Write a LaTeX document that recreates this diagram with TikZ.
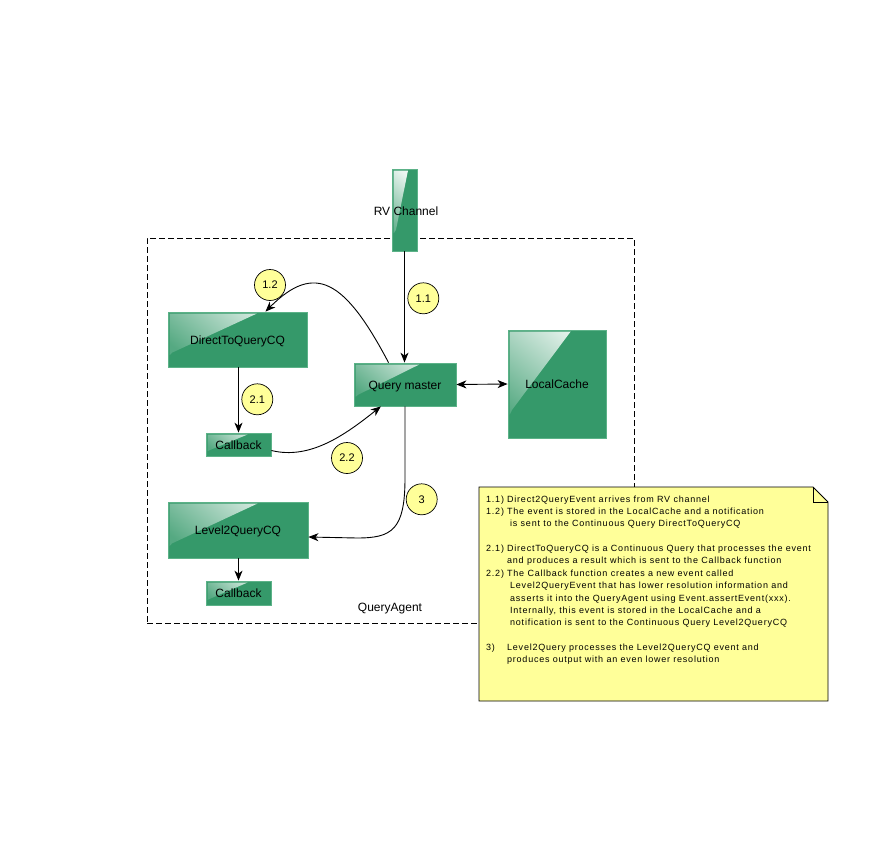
\documentclass[tikz,border=0pt]{standalone}
\usepackage{fontspec}
\setmainfont{Liberation Sans}
\newfontfamily\notefont[LetterSpace=8.5]{Liberation Sans}
\usetikzlibrary{arrows.meta,calc}

\definecolor{boxgreen}{RGB}{53,153,106}
\definecolor{boxedge}{RGB}{92,178,136}
\definecolor{notey}{RGB}{255,255,153}

\tikzset{
  glossbox/.style={
    fill=boxgreen, draw=boxedge, line width=0.8pt, inner sep=0pt,
    font=\fontsize{12}{14}\selectfont, text height=9pt, text depth=0pt,
    path picture={
      \shade[left color=white!90!boxgreen, right color=boxgreen!84!white, shading angle=-40]
        ($(path picture bounding box.north west)+(1.5,1.5)$)
        -- ($(path picture bounding box.north west)!0.64!(path picture bounding box.north east)+(0,1.5)$)
        -- ($(path picture bounding box.north west)!0.74!(path picture bounding box.south west)+(4,0)$)
        .. controls ($(path picture bounding box.north west)!0.79!(path picture bounding box.south west)+(1.5,0)$)
        .. ($(path picture bounding box.north west)!0.78!(path picture bounding box.south west)+(1.5,0)$)
        -- cycle;
    }
  },
  stepnum/.style={circle, fill=notey, draw=black, line width=0.7pt,
    minimum size=31pt, inner sep=0pt,
    font=\fontsize{11}{13}\selectfont, text height=7.9pt, text depth=0pt},
  conn/.style={draw=black, line width=0.9pt,
    -{Stealth[length=10pt,width=8pt,inset=3pt]}},
  plainlabel/.style={font=\fontsize{12}{14}\selectfont, inner sep=0pt},
  agentbox/.style={draw=black, dashed, dash pattern=on 6pt off 3pt,
    line width=0.8pt, inner sep=0pt},
  notebox/.style={fill=notey, draw=black, line width=0.8pt},
}

\begin{document}
\begin{tikzpicture}[x=1pt,y=-1pt]
\useasboundingbox (0,0) rectangle (896,848);

% container
\node[agentbox, minimum width=487pt, minimum height=385pt] (agent) at (390.5,430.5) {};
\node[plainlabel] (agentlabel) at (390,609) {QueryAgent};

% components
\node[glossbox, minimum width=25pt, minimum height=82pt] (rv) at (404.5,210) {};
\node[plainlabel] (rvlabel) at (406,211) {RV Channel};
\node[glossbox, minimum width=139pt, minimum height=55pt] (dq) at (237.5,339.5) {DirectToQueryCQ};
\node[glossbox, minimum width=102pt, minimum height=43pt] (qm) at (405,384.5) {Query master};
\node[glossbox, minimum width=98pt, minimum height=108pt] (lc) at (557,384) {LocalCache};
\node[glossbox, minimum width=65pt, minimum height=23pt] (cbone) at (238.5,444.5) {Callback};
\node[glossbox, minimum width=140pt, minimum height=56pt] (ltwo) at (238,530) {Level2QueryCQ};
\node[glossbox, minimum width=65pt, minimum height=24pt] (cbtwo) at (238.5,593) {Callback};

% connectors
\draw[conn] (rv.south) -- (rv.south |- qm.north);
\draw[conn] ($(qm.north west)!0.34!(qm.north east)$)
  .. controls (345,280) and (315,262) .. ($(dq.north west)!0.70!(dq.north east)$);
\draw[conn] (cbone.north |- dq.south) -- (cbone.north);
\draw[conn] ($(cbone.east)+(0,6)$)
  .. controls (310,460) and (345,435) .. ($(qm.south west)!0.265!(qm.south east)$);
\coordinate (bendthree) at (405,478);
\draw[conn] (qm.south) -- (bendthree) .. controls (405,530) and (392,538) .. (357,538)
  -- ($(ltwo.east)+(0,7)$);
\draw[conn] (cbtwo.north |- ltwo.south) -- (cbtwo.north);
\draw[draw=black, line width=0.9pt,
  {Stealth[length=10pt,width=8pt,inset=3pt]}-{Stealth[length=10pt,width=8pt,inset=3pt]}]
  (qm.east) -- (lc.west);

% step markers
\node[stepnum] (sonetwo) at (270,285) {1.2};
\node[stepnum] (soneone) at (423.3,298.3) {1.1};
\node[stepnum] (stwoone) at (257.3,399.3) {2.1};
\node[stepnum] (stwotwo) at (347,458) {2.2};
\node[stepnum] (sthree) at (421.7,499.3) {3};

% explanatory note with folded corner
\draw[notebox] (479,487) -- (813,487) -- (828,502) -- (828,701) -- (479,701) -- cycle;
\draw[line width=0.8pt] (813,487) -- (813,502) -- (828,502);
\node[anchor=north west, inner sep=0pt, align=left,
  font=\notefont\fontsize{9}{12.35}\selectfont] (notetext) at (486,495.5) {%
\makebox[21pt][l]{1.1)}Direct2QueryEvent arrives from RV channel\\
\makebox[21pt][l]{1.2)}The event is stored in the LocalCache and a notification\\
\hspace*{24pt}is sent to the Continuous Query DirectToQueryCQ\\
\mbox{}\\
\makebox[21pt][l]{2.1)}DirectToQueryCQ is a Continuous Query that processes the event\\
\hspace*{21pt}and produces a result which is sent to the Callback function\\
\makebox[21pt][l]{2.2)}The Callback function creates a new event called\\
\hspace*{24pt}Level2QueryEvent that has lower resolution information and\\
\hspace*{24pt}asserts it into the QueryAgent using Event.assertEvent(xxx).\\
\hspace*{24pt}Internally, this event is stored in the LocalCache and a\\
\hspace*{24pt}notification is sent to the Continuous Query Level2QueryCQ\\
\mbox{}\\
\makebox[21pt][l]{3)}Level2Query processes the Level2QueryCQ event and\\
\hspace*{21pt}produces output with an even lower resolution};
\end{tikzpicture}
\end{document}
